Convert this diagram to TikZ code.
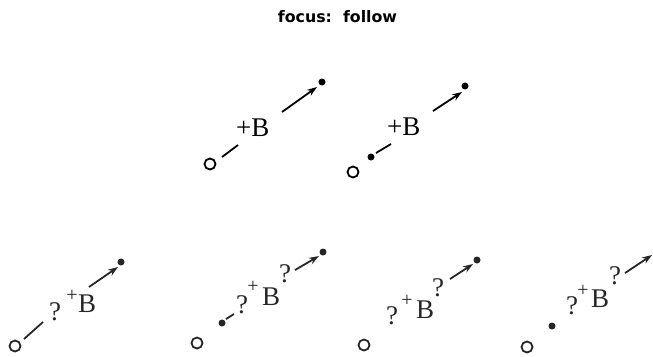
\documentclass[tikz,border=0pt]{standalone}
\usepackage{fontspec}
\setmainfont{Liberation Serif}
\newfontfamily\titlefont{DejaVu Sans}
\usetikzlibrary{arrows.meta}
\begin{document}
\begin{tikzpicture}[x=1pt,y=-1pt,
  opendot/.style={circle,draw,line width=1.8pt,minimum size=11pt,inner sep=0pt},
  fulldot/.style={circle,fill,minimum size=7pt,inner sep=0pt},
  link/.style={line width=1.8pt},
  arrowlink/.style={line width=1.8pt,-{Stealth[length=10pt,width=7pt]}},
  bigtxt/.style={font=\fontsize{27}{27}\selectfont,inner sep=0pt},
  suptxt/.style={font=\fontsize{20}{20}\selectfont,inner sep=0pt},
  qtxt/.style={font=\fontsize{27}{27}\selectfont,inner sep=0pt},
  lower/.style={black!85}]
\useasboundingbox (0,0) rectangle (653,356);
\node[font=\titlefont\bfseries\fontsize{15.8}{16}\selectfont,anchor=base] (title) at (337.5,22) {focus:\ \ follow};

% diagram 1
\node[opendot] (c1) at (210,164) {};
\coordinate (l1a) at (222,157); \coordinate (l1b) at (238,145);
\draw[link] (l1a) -- (l1b);
\node[bigtxt,anchor=base west] (t1) at (236,136) {+B};
\coordinate (a1a) at (282,112); \coordinate (a1b) at (317,87);
\draw[arrowlink] (a1a) -- (a1b);
\node[fulldot] (d1) at (322,82) {};

% diagram 2
\node[opendot] (c2) at (353,172) {};
\node[fulldot] (e2) at (371,157) {};
\coordinate (l2a) at (376,153); \coordinate (l2b) at (391,144);
\draw[link] (l2a) -- (l2b);
\node[bigtxt,anchor=base west] (t2) at (387,135) {+B};
\coordinate (a2a) at (433,111); \coordinate (a2b) at (462,92);
\draw[arrowlink] (a2a) -- (a2b);
\node[fulldot] (d2) at (465,86) {};

\begin{scope}[lower]
% diagram 3
\node[opendot] (c3) at (15,346) {};
\coordinate (l3a) at (24,339); \coordinate (l3b) at (43,322);
\draw[link] (l3a) -- (l3b);
\node[qtxt] (q3) at (55,312) {?};
\node[suptxt] (p3) at (72,296) {+};
\node[bigtxt,anchor=base west] (b3) at (78,312) {B};
\coordinate (a3a) at (89,287); \coordinate (a3b) at (118,267);
\draw[arrowlink] (a3a) -- (a3b);
\node[fulldot] (d3) at (121,262) {};

% diagram 4
\node[opendot] (c4) at (197,343) {};
\node[fulldot] (e4) at (222,323) {};
\coordinate (l4a) at (226,319); \coordinate (l4b) at (234,314);
\draw[link] (l4a) -- (l4b);
\node[qtxt] (q4) at (242,305) {?};
\node[suptxt] (p4) at (253,287) {+};
\node[bigtxt,anchor=base west] (b4) at (262,305) {B};
\node[qtxt] (r4) at (285,274) {?};
\coordinate (a4a) at (295,270); \coordinate (a4b) at (319,256);
\draw[arrowlink] (a4a) -- (a4b);
\node[fulldot] (d4) at (323,252) {};

% diagram 5
\node[opendot] (c5) at (364,345) {};
\node[qtxt] (q5) at (392,316) {?};
\node[suptxt] (p5) at (407,301) {+};
\node[bigtxt,anchor=base west] (b5) at (416,318) {B};
\node[qtxt] (r5) at (438,288) {?};
\coordinate (a5a) at (450,279); \coordinate (a5b) at (473,264);
\draw[arrowlink] (a5a) -- (a5b);
\node[fulldot] (d5) at (477,260) {};

% diagram 6
\node[opendot] (c6) at (527,347) {};
\node[fulldot] (e6) at (552,326) {};
\node[qtxt] (q6) at (572,306) {?};
\node[suptxt] (p6) at (583,291) {+};
\node[bigtxt,anchor=base west] (b6) at (591,307) {B};
\node[qtxt] (r6) at (615,276) {?};
\coordinate (a6a) at (625,273); \coordinate (a6b) at (652,255);
\draw[arrowlink] (a6a) -- (a6b);
\end{scope}
\end{tikzpicture}
\end{document}
